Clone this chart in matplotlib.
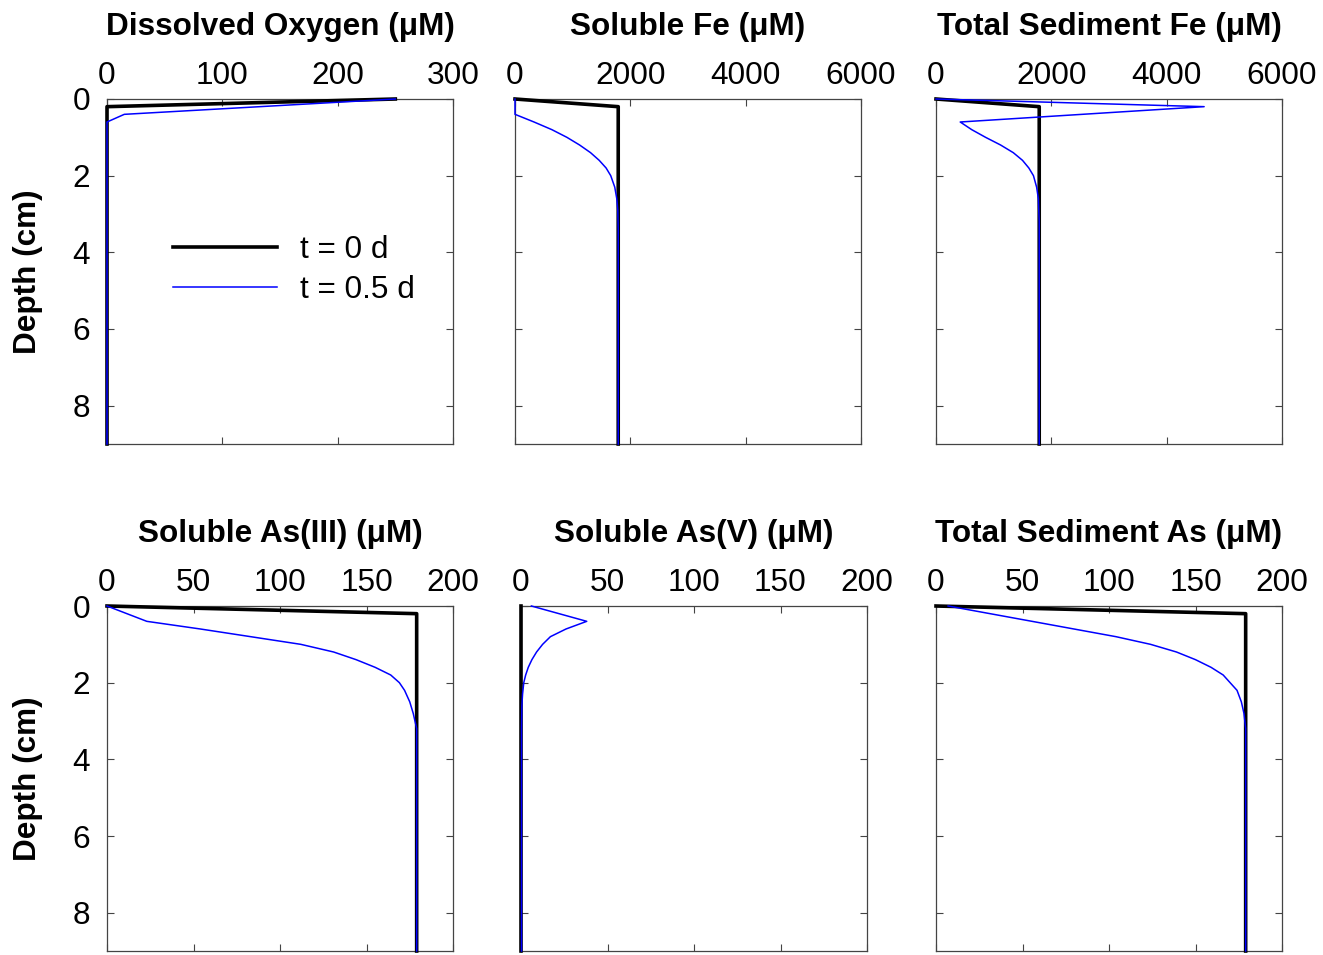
import numpy as np
import matplotlib.pyplot as plt

plt.rcParams['font.family'] = ['Liberation Sans', 'DejaVu Sans']
plt.rcParams['font.size'] = 22.7

# depth profiles (cm) and concentrations (uM)
do_depth0 = [0, 0.2, 9]
do_t0 = [250, 0, 0]
do_depth1 = [0, 0.4, 0.6, 9]
do_t1 = [250, 15, 0, 0]

fe_depth0 = [0, 0.2, 9]
fe_t0 = [0, 1790, 1790]
fe_depth1 = [0, 0.4, 0.6, 0.8, 1.0, 1.2, 1.4, 1.6, 1.8, 2.0, 2.3, 2.6, 2.9, 3.4, 9]
fe_t1 = [0, 0, 330, 640, 900, 1120, 1310, 1460, 1580, 1660, 1730, 1765, 1783, 1790, 1790]

tfe_depth0 = [0, 0.2, 9]
tfe_t0 = [0, 1790, 1790]
tfe_depth1 = [0, 0.2, 0.6, 0.8, 1.0, 1.2, 1.4, 1.6, 1.8, 2.0, 2.3, 2.6, 3.2, 9]
tfe_t1 = [0, 4650, 420, 620, 860, 1120, 1340, 1500, 1610, 1690, 1745, 1775, 1790, 1790]

as3_depth0 = [0, 0.2, 9]
as3_t0 = [0, 179, 179]
as3_depth1 = [0, 0.4, 0.6, 0.8, 1.0, 1.2, 1.4, 1.6, 1.8, 2.0, 2.2, 2.5, 2.8, 3.2, 9]
as3_t1 = [0, 23, 54, 83, 112, 131, 144, 155, 164, 169, 172, 175, 177, 179, 179]

as5_depth0 = [0, 9]
as5_t0 = [0, 0]
as5_depth1 = [0, 0.4, 0.6, 0.8, 1.0, 1.2, 1.4, 1.6, 1.8, 2.0, 2.3, 2.6, 3.2, 9]
as5_t1 = [6, 38, 26, 17, 12.5, 9, 6.3, 4.2, 2.7, 1.6, 0.9, 0.5, 0.3, 0.3]

tas_depth0 = [0, 0.2, 9]
tas_t0 = [0, 179, 179]
tas_depth1 = [0, 0.8, 1.0, 1.2, 1.4, 1.6, 1.8, 2.0, 2.2, 2.5, 2.8, 3.2, 9]
tas_t1 = [7, 104, 124, 139, 150, 159, 166, 170, 174, 176.5, 178, 179, 179]

titles = ['Dissolved Oxygen (\u03bcM)', 'Soluble Fe (\u03bcM)', 'Total Sediment Fe (\u03bcM)',
          'Soluble As(III) (\u03bcM)', 'Soluble As(V) (\u03bcM)', 'Total Sediment As (\u03bcM)']
xmax = [300, 6000, 6000, 200, 200, 200]
xstep = [100, 2000, 2000, 50, 50, 50]
panels = [(do_depth0, do_t0, do_depth1, do_t1),
          (fe_depth0, fe_t0, fe_depth1, fe_t1),
          (tfe_depth0, tfe_t0, tfe_depth1, tfe_t1),
          (as3_depth0, as3_t0, as3_depth1, as3_t1),
          (as5_depth0, as5_t0, as5_depth1, as5_t1),
          (tas_depth0, tas_t0, tas_depth1, tas_t1)]

W, H = 1323, 955
fig = plt.figure(figsize=(W / 100, H / 100), dpi=100)

# axes boxes in pixels: left, top
boxes = [(107, 99), (515, 99), (936, 99), (107, 606), (521, 606), (936, 606)]
aw, ah = 346, 345

spine_col = '#444444'
for i, (bx, by) in enumerate(boxes):
    ax = fig.add_axes([bx / W, 1 - (by + ah) / H, aw / W, ah / H])
    d0, v0, d1, v1 = panels[i]
    ax.plot(v0, d0, color='black', lw=2.6, label='t = 0 d', clip_on=False, zorder=3)
    ax.plot(v1, d1, color='blue', lw=1.1, label='t = 0.5 d', clip_on=False, zorder=4)
    ax.set_xlim(0, xmax[i])
    ax.set_ylim(9, 0)
    ax.set_xticks(np.arange(0, xmax[i] + 1, xstep[i]))
    ax.set_yticks([0, 2, 4, 6, 8])
    ax.xaxis.tick_top()
    ax.tick_params(axis='both', direction='in', length=5, width=0.8, color=spine_col,
                   top=True, bottom=True, left=True, right=True,
                   labelsize=22.7)
    ax.tick_params(axis='x', labeltop=True, labelbottom=False, pad=5.8)
    ax.tick_params(axis='y', labelleft=(i % 3 == 0), labelright=False, pad=12.3)
    for s in ax.spines.values():
        s.set_color(spine_col)
        s.set_linewidth(0.9)
    ax.set_title(titles[i], fontweight='bold', fontsize=22.7, y=1.186, pad=0)
    if i % 3 == 0:
        ax.set_ylabel('Depth (cm)', fontweight='bold', fontsize=22.7)
        ax.yaxis.set_label_coords(-0.185, 0.5)
    if i == 0:
        ax.legend(loc='center left', bbox_to_anchor=(0.19, 0.504), frameon=False,
                  borderpad=0, borderaxespad=0, handlelength=3.3, handletextpad=0.75,
                  labelspacing=0.3, fontsize=22.7)

fig.savefig('out.png', dpi=100)
